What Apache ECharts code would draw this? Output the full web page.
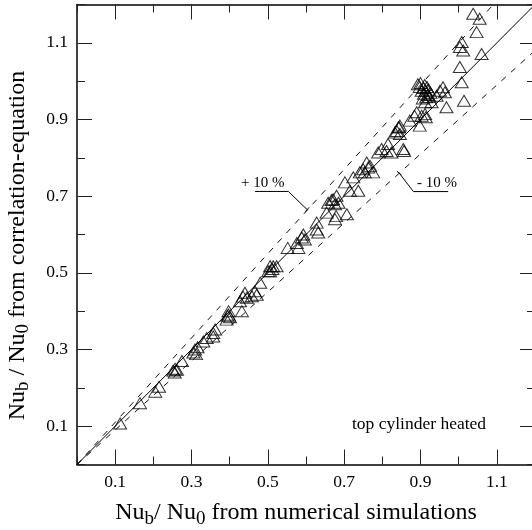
<!DOCTYPE html>
<html>
<head>
<meta charset="utf-8">
<script src="https://cdn.jsdelivr.net/npm/echarts@6/dist/echarts.min.js"></script>
<style>
  html, body { margin: 0; padding: 0; background: #fff; }
  #chart { width: 532px; height: 530px; }
</style>
</head>
<body>
<div id="chart"></div>
<script>
let d = document;

// tick positions along both axes (only the odd ones get labels / long ticks)
const ticks = ['0', '0.1', '0.2', '0.3', '0.4', '0.5', '0.6', '0.7', '0.8', '0.9', '1.0', '1.1', '1.2'];

// Nu_b/Nu_0 : numerical simulation (x) vs correlation equation (y)
const numSim = [
  0.113, 0.165, 0.205, 0.215, 0.252, 0.257, 0.262, 0.256, 0.275,
  0.305, 0.309, 0.316, 0.312, 0.331, 0.340, 0.357, 0.362, 0.357,
  0.392, 0.397, 0.401, 0.397, 0.394, 0.432, 0.427, 0.440, 0.445, 0.435, 0.458, 0.466, 0.471, 0.480,
  0.501, 0.506, 0.514, 0.523, 0.506, 0.512,
  0.552, 0.580, 0.576, 0.589, 0.593, 0.597,
  0.628, 0.628, 0.632, 0.654, 0.676, 0.679,
  0.658, 0.671, 0.680, 0.676, 0.685, 0.667, 0.707, 0.715,
  0.702, 0.724, 0.737, 0.741, 0.750, 0.759, 0.768, 0.776, 0.754, 0.763,
  0.798, 0.815, 0.811, 0.824, 0.789, 0.855, 0.857,
  0.833, 0.846, 0.842, 0.846, 0.838, 0.844,
  0.872, 0.898, 0.890, 0.903, 0.912, 0.884, 0.914,
  0.912, 0.929, 0.968, 0.942, 0.951, 0.959, 0.964,
  0.893, 0.898, 0.903, 0.909, 0.914, 0.919, 0.924, 0.911, 0.917, 0.906, 0.900, 0.921, 0.908, 0.926, 0.915,
  1.003, 1.008, 1.014,
  1.038, 1.055, 1.047, 1.008, 1.003, 1.012, 1.060
];
const corrEq = [
  0.107, 0.160, 0.190, 0.203, 0.245, 0.250, 0.247, 0.240, 0.270,
  0.292, 0.300, 0.306, 0.288, 0.321, 0.330, 0.343, 0.352, 0.334,
  0.378, 0.391, 0.384, 0.400, 0.388, 0.400, 0.426, 0.448, 0.435, 0.438, 0.439, 0.452, 0.443, 0.474,
  0.504, 0.517, 0.517, 0.517, 0.504, 0.510,
  0.565, 0.565, 0.578, 0.592, 0.600, 0.587,
  0.631, 0.613, 0.605, 0.657, 0.640, 0.648,
  0.683, 0.692, 0.701, 0.679, 0.683, 0.690, 0.653, 0.714,
  0.736, 0.749, 0.714, 0.762, 0.770, 0.788, 0.779, 0.762, 0.762, 0.775,
  0.823, 0.836, 0.818, 0.814, 0.814, 0.823, 0.818,
  0.866, 0.862, 0.880, 0.884, 0.870, 0.880,
  0.897, 0.884, 0.919, 0.910, 0.914, 0.910, 0.906,
  0.945, 0.945, 0.932, 0.962, 0.975, 0.984, 0.971,
  0.992, 0.985, 0.975, 0.967, 0.975, 0.964, 0.959, 0.990, 0.985, 0.955, 0.995, 0.978, 0.982, 0.970, 0.958,
  1.037, 0.997, 0.949,
  1.176, 1.163, 1.128, 1.102, 1.089, 1.080, 1.071
];

// reference lines: perfect agreement and +/- 10 %
const lineEqual = [[0, 0], [1.2, 1.2]];
const linePlus10 = [[0, 0], [1.0909, 1.2]];
const lineMinus10 = [[0, 0], [1.2, 1.08]];

// leader lines of the +/- 10 % annotations
const leaderPlus = [[0.4665, 0.7123], [0.5537, 0.7123], [0.603, 0.665]];
const leaderPlusTick = [[0.5977, 0.6592], [0.6083, 0.6708]];
const leaderMinus = [[0.9725, 0.7120], [0.8814, 0.7120], [0.8443, 0.7600]];
const leaderMinusTick = [[0.8383, 0.7650], [0.8503, 0.7550]];

const font = 'Liberation Serif';
const black = '#000';
const odd = (i) => i % 2 === 1;

const points = numSim.map((x, i) => [x, corrEq[i]]);

function valAxis(pos, extra) {
  return Object.assign({
    type: 'value', position: pos, min: 0, max: 1.2, interval: 0.1,
    axisLine: { show: true, onZero: false, lineStyle: { color: black, width: 1.5 } },
    axisTick: { show: true, inside: true, length: 8, lineStyle: { color: '#222', width: 1 } },
    axisLabel: { show: false },
    splitLine: { show: false }
  }, extra || {});
}

function catAxis(pos, showLabel) {
  return {
    type: 'category', position: pos, data: ticks, boundaryGap: false,
    axisLine: { show: false, onZero: false },
    axisTick: { show: true, inside: true, length: 15, interval: odd, lineStyle: { color: '#222', width: 1 } },
    axisLabel: {
      show: showLabel, interval: odd, margin: 9,
      fontFamily: font, fontSize: 17.5, color: black
    },
    splitLine: { show: false }
  };
}

const nameRich = {
  n: { fontFamily: font, fontSize: 24, color: black },
  s: { fontFamily: font, fontSize: 19, color: black, padding: [12, 0, 0, 0] }
};

const chart = echarts.init(d.getElementById('chart'), null, { renderer: 'canvas' });

chart.setOption({
  animation: false,
  backgroundColor: '#fff',
  grid: { left: 77, top: 4.5, width: 458, height: 460, containLabel: false, outerBoundsMode: 'none' },
  xAxis: [
    valAxis('bottom', {
      name: '{n|Nu}{s|b}{n|/ Nu}{s|0}{n| from numerical simulations}',
      nameLocation: 'middle', nameGap: 33, nameMoveOverlap: false,
      nameTextStyle: { rich: nameRich, padding: [0, 20, 0, 0] }
    }),
    catAxis('bottom', true),
    valAxis('top'),
    catAxis('top', false)
  ],
  yAxis: [
    valAxis('left', {
      name: '{n|Nu}{s|b}{n| / Nu}{s|0}{n| from correlation-equation}',
      nameLocation: 'middle', nameGap: 44, nameRotate: 90, nameMoveOverlap: false,
      nameTextStyle: { rich: nameRich, padding: [0, 22, 0, 0] }
    }),
    catAxis('left', true),
    valAxis('right'),
    catAxis('right', false)
  ],
  series: [
    {
      type: 'line', data: lineEqual, symbol: 'none', silent: true,
      lineStyle: { color: black, width: 1 }, z: 1
    },
    {
      type: 'line', data: linePlus10, symbol: 'none', silent: true,
      lineStyle: { color: '#111', width: 1, type: [6, 7] }, z: 1
    },
    {
      type: 'line', data: lineMinus10, symbol: 'none', silent: true,
      lineStyle: { color: '#111', width: 1, type: [6, 7] }, z: 1
    },
    {
      type: 'line', data: leaderPlus, symbol: 'none', silent: true,
      lineStyle: { color: black, width: 1 }
    },
    {
      type: 'line', data: leaderPlusTick, symbol: 'none', silent: true,
      lineStyle: { color: black, width: 1 }
    },
    {
      type: 'line', data: leaderMinus, symbol: 'none', silent: true,
      lineStyle: { color: black, width: 1 }
    },
    {
      type: 'line', data: leaderMinusTick, symbol: 'none', silent: true,
      lineStyle: { color: black, width: 1 }
    },
    {
      type: 'scatter', data: points, symbol: 'triangle', symbolSize: [13, 11],
      itemStyle: { color: 'rgba(0,0,0,0)', borderColor: black, borderWidth: 1 },
      z: 3
    }
  ],
  graphic: [
    { type: 'text', left: 241, top: 176, style: { text: '+ 10 %', font: '15px "Liberation Serif"', fill: black } },
    { type: 'text', left: 417, top: 176, style: { text: '- 10 %', font: '15px "Liberation Serif"', fill: black } },
    { type: 'text', left: 352, top: 415, style: { text: 'top cylinder heated', font: '17.5px "Liberation Serif"', fill: black } }
  ]
});
</script>
</body>
</html>
